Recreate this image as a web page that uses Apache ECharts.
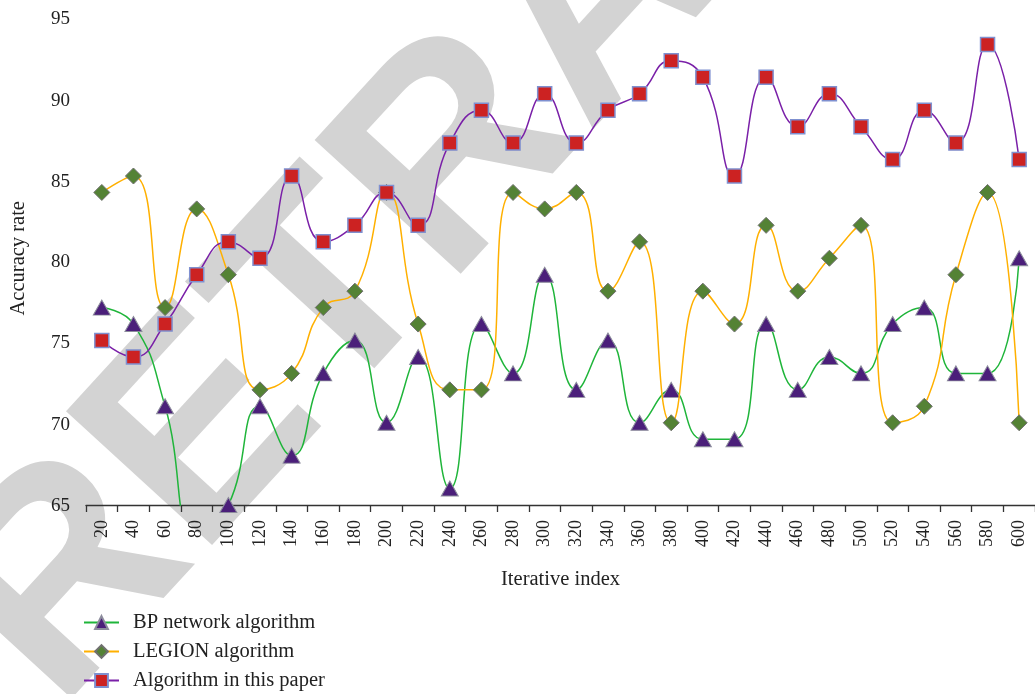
<!DOCTYPE html>
<html>
<head>
<meta charset="utf-8">
<script src="https://cdn.jsdelivr.net/npm/echarts@6/dist/echarts.min.js"></script>
<style>html,body{margin:0;padding:0;background:#fff}#c{width:1035px;height:694px}</style>
</head>
<body>
<div id="c"></div>
<script>
var categories = ['20','40','60','80','100','120','140','160','180','200','220','240','260','280','300','320','340','360','380','400','420','440','460','480','500','520','540','560','580','600'];
var bpValues = [77,76,71,63,65,71,68,73,75,70,74,66,76,73,79,72,75,70,72,69,69,76,72,74,73,76,77,73,73,80];
var legionValues = [84,85,77,83,79,72,73,77,78,84,76,72,72,84,83,84,78,81,70,78,76,82,78,80,82,70,71,79,84,70];
var paperValues = [75,74,76,79,81,80,85,81,82,84,82,87,89,87,90,87,89,90,92,91,85,91,88,90,88,86,89,87,93,86];
var seriesNames = ['BP network algorithm','LEGION algorithm','Algorithm in this paper'];
var yTicks = {min:65, max:95, interval:5};

var FONT = '"Liberation Serif", "DejaVu Serif", serif';
// small per-label vertical nudges of y tick labels (style only)
var yLabelLineHeights = {95:16, 90:15, 85:13, 80:8, 75:6, 70:5, 65:2};
var yRich = {};
Object.keys(yLabelLineHeights).forEach(function (k) {
  yRich['t' + k] = {fontFamily: FONT, fontSize: 19, color: '#222', lineHeight: yLabelLineHeights[k]};
});

var chart = echarts.init(document.getElementById('c'));
chart.setOption({
  animation: false,
  backgroundColor: '#fff',
  graphic: [{
    type: 'text', z: -10, zlevel: 0, silent: true,
    x: 0, y: 659, rotation: 47.5 * Math.PI / 180,
    style: {text: 'RETRACTED', fill: '#d3d3d3', font: 'bold 288px "Liberation Sans", Arial, sans-serif', textAlign: 'left', textVerticalAlign: 'middle'}
  }],
  grid: {left: 83, top: 11.5, width: 955, height: 493.5, containLabel: false},
  legend: {
    orient: 'vertical', left: 83, top: 612, width: 400, height: 120, padding: 0, itemGap: 8, itemWidth: 35, itemHeight: 16,
    textStyle: {fontFamily: FONT, fontSize: 20.5, lineHeight: 18, color: '#222', padding: [0, 0, 0, 9]},
    data: seriesNames
  },
  xAxis: {
    type: 'category', data: categories, boundaryGap: true,
    name: 'Iterative index', nameLocation: 'middle', nameGap: 64,
    nameTextStyle: {fontFamily: FONT, fontSize: 20.5, color: '#222'},
    axisLine: {lineStyle: {color: '#333', width: 1.3}},
    axisTick: {show: true, interval: 0, length: 7, lineStyle: {color: '#333', width: 1.3}},
    axisLabel: {interval: 0, rotate: 90, fontFamily: FONT, fontSize: 18, color: '#222', margin: 15},
    splitLine: {show: false}
  },
  yAxis: {
    type: 'value', min: yTicks.min, max: yTicks.max, interval: yTicks.interval,
    name: 'Accuracy rate', nameLocation: 'middle', nameGap: 57,
    nameTextStyle: {fontFamily: FONT, fontSize: 20.5, color: '#222'},
    axisLine: {show: false}, axisTick: {show: false}, splitLine: {show: false},
    axisLabel: {fontFamily: FONT, fontSize: 19, color: '#222', margin: 16, verticalAlign: 'top',
      formatter: function (v) { return '{t' + v + '|' + v + '}'; }, rich: yRich}
  },
  series: [
    {name: seriesNames[0], type: 'line', data: bpValues, smooth: 0.5, clip: true,
     symbol: 'triangle', symbolSize: [17, 15],
     lineStyle: {color: '#1fb53a', width: 1.5},
     itemStyle: {color: '#4b1f7a', borderColor: '#8c8c9c', borderWidth: 1}, z: 3},
    {name: seriesNames[1], type: 'line', data: legionValues, smooth: 0.5, clip: true,
     symbol: 'diamond', symbolSize: [16, 16],
     lineStyle: {color: '#ffb000', width: 1.5},
     itemStyle: {color: '#548235', borderColor: '#707070', borderWidth: 1}, z: 4},
    {name: seriesNames[2], type: 'line', data: paperValues, smooth: 0.5, clip: true,
     symbol: 'rect', symbolSize: [14, 14],
     lineStyle: {color: '#7a20a8', width: 1.5},
     itemStyle: {color: '#cc2222', borderColor: '#7f90d0', borderWidth: 1.5}, z: 5}
  ]
});
</script>
</body>
</html>
